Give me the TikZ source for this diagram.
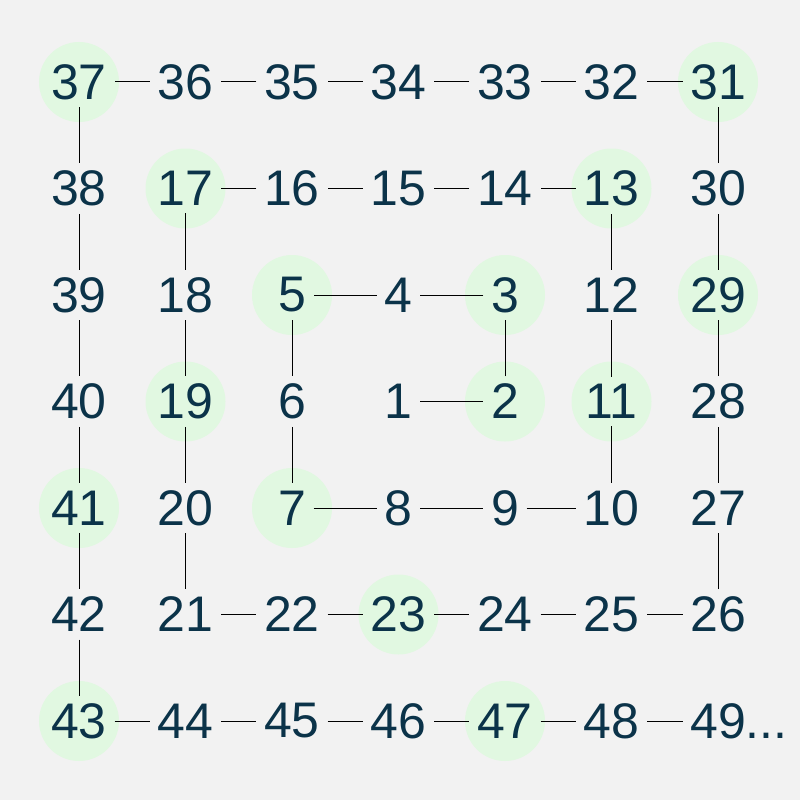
\documentclass[tikz,border=0pt]{standalone}
\usepackage{fontspec}
\setmainfont{Liberation Sans}
\usetikzlibrary{backgrounds}
\definecolor{numblue}{HTML}{0B3349}
\definecolor{primegreen}{HTML}{E1F8E1}
\definecolor{paper}{HTML}{F2F2F2}

\begin{document}
\begin{tikzpicture}[x=106.5pt, y=-106.5pt,
		num/.style = {
			text=numblue, inner sep=7.5pt,
			font=\fontsize{50pt}{60pt}\selectfont
		},
		link/.style = {black, line width=1pt}]
	\useasboundingbox (-79pt,82pt) rectangle (721pt,-718pt);
	% the spiral, number/column/row
	\foreach \n/\c/\r in {1/3/3, 2/4/3, 3/4/2, 4/3/2, 5/2/2, 6/2/3, 7/2/4,
			8/3/4, 9/4/4, 10/5/4, 11/5/3, 12/5/2, 13/5/1, 14/4/1, 15/3/1,
			16/2/1, 17/1/1, 18/1/2, 19/1/3, 20/1/4, 21/1/5, 22/2/5, 23/3/5,
			24/4/5, 25/5/5, 26/6/5, 27/6/4, 28/6/3, 29/6/2, 30/6/1, 31/6/0,
			32/5/0, 33/4/0, 34/3/0, 35/2/0, 36/1/0, 37/0/0, 38/0/1, 39/0/2,
			40/0/3, 41/0/4, 42/0/5, 43/0/6, 44/1/6, 45/2/6, 46/3/6, 47/4/6,
			48/5/6}
		\node (n\n) [num] at (\c,\r) {\n};
	\node (n49) [num] at (6,6) {49\rlap{...}};
	% links
	\foreach \n [evaluate=\n as \m using int(\n+1)] in {1,...,48}
		\draw [link] (n\n) -- (n\m);
	% paper and primes
	\begin{scope}[on background layer]
		\fill [paper] (-79pt,82pt) rectangle (721pt,-718pt);
		\foreach \p in {2,3,5,7,11,13,17,19,23,29,31,37,41,43,47}
			\fill [primegreen] (n\p.center) circle (40pt);
	\end{scope}
\end{tikzpicture}
\end{document}
